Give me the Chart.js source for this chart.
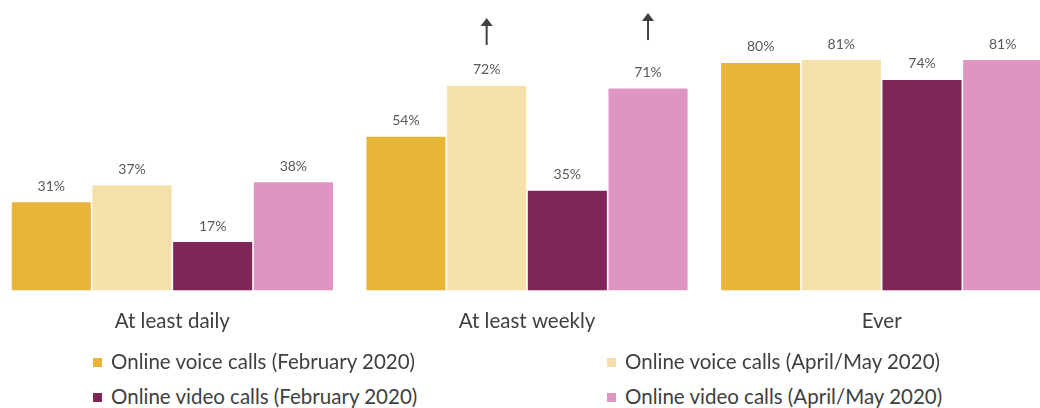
<!DOCTYPE html>
<html>
<head>
<meta charset="utf-8">
<script src="https://cdn.jsdelivr.net/npm/chart.js@4"></script>
<style>
  html, body { margin: 0; padding: 0; background: #fff; overflow: hidden; }
  body { width: 1040px; height: 408px; position: relative; }
  #wrap { position: absolute; left: -5px; top: 0; width: 1064px; height: 363px; }
  .legend { position: absolute; font-family: Lato, sans-serif; font-size: 20.5px; color: #404040; white-space: nowrap; }
  .legend span.box { display: inline-block; width: 9px; height: 9px; margin-right: 9px; vertical-align: 2px; }
</style>
</head>
<body>
<div id="wrap"><canvas id="barChart"></canvas></div>
<div id="legend"></div>
<script>
// 데이터
const categories = ['At least daily', 'At least weekly', 'Ever'];
const seriesNames = [
    'Online voice calls (February 2020)',
    'Online voice calls (April/May 2020)',
    'Online video calls (February 2020)',
    'Online video calls (April/May 2020)'
];
const voiceFeb = [31, 54, 80];
const voiceApr = [37, 72, 81];
const videoFeb = [17, 35, 74];
const videoApr = [38, 71, 81];
const colors = ['#E6B53A', '#F5E0AC', '#7F2659', '#DE95C2'];

// 화살표 (증가 표시): 카테고리, 시리즈, 시작/끝 값
const arrowCat = [1, 1];
const arrowSeries = [1, 3];
const arrowFrom = [86.3, 88];
const arrowTo = [95.8, 97.5];

function barChart() {
    const ctx = document.getElementById('barChart').getContext('2d');
    const values = [voiceFeb, voiceApr, videoFeb, videoApr];

    // 막대 위 값 표시
    const valueLabels = {
        id: 'valueLabels',
        afterDatasetsDraw(chart) {
            const c = chart.ctx;
            c.save();
            c.font = '14px Lato, sans-serif';
            c.fillStyle = '#595959';
            c.textAlign = 'center';
            c.textBaseline = 'middle';
            chart.data.datasets.forEach((ds, i) => {
                chart.getDatasetMeta(i).data.forEach((bar, j) => {
                    c.fillText(ds.data[j] + '%', bar.x, bar.y - 16);
                });
            });
            c.restore();
        }
    };

    // 화살표 그리기
    const arrows = {
        id: 'arrows',
        afterDatasetsDraw(chart) {
            const c = chart.ctx;
            const y = chart.scales.y;
            c.save();
            c.strokeStyle = '#404040';
            c.fillStyle = '#404040';
            c.lineWidth = 2;
            arrowCat.forEach((cat, k) => {
                const bar = chart.getDatasetMeta(arrowSeries[k]).data[cat];
                const x = bar.x;
                const y0 = y.getPixelForValue(arrowFrom[k]);
                const y1 = y.getPixelForValue(arrowTo[k]);
                c.beginPath();
                c.moveTo(x, y0);
                c.lineTo(x, y1 + 7);
                c.stroke();
                c.beginPath();
                c.moveTo(x, y1);
                c.lineTo(x - 6, y1 + 8);
                c.lineTo(x + 6, y1 + 8);
                c.closePath();
                c.fill();
            });
            c.restore();
        }
    };

    new Chart(ctx, {
        type: 'bar',
        data: {
            labels: categories,
            datasets: seriesNames.map((name, i) => ({
                label: name,
                data: values[i],
                backgroundColor: colors[i],
                borderWidth: 0,
                categoryPercentage: 0.91,
                barPercentage: 0.98
            }))
        },
        options: {
            responsive: true,
            maintainAspectRatio: false,
            animation: false,
            layout: { padding: { top: 6, bottom: 10, left: 0, right: 0 } },
            scales: {
                x: {
                    grid: { display: false, drawTicks: false },
                    border: { display: false },
                    ticks: {
                        padding: 19,
                        color: '#404040',
                        font: { family: 'Lato, sans-serif', size: 20.5 }
                    }
                },
                y: {
                    display: false,
                    min: 0,
                    max: 100
                }
            },
            plugins: {
                legend: { display: false },
                tooltip: { enabled: false }
            }
        },
        plugins: [valueLabels, arrows]
    });
}
barChart();

// 범례 (2열)
function buildLegend() {
    const legend = document.getElementById('legend');
    const colX = [93, 607];
    const rowY = [349, 384];
    seriesNames.forEach((name, i) => {
        const d = document.createElement('div');
        d.className = 'legend';
        d.style.left = colX[i % 2] + 'px';
        d.style.top = rowY[Math.floor(i / 2)] + 'px';
        d.innerHTML = '<span class="box" style="background:' + colors[i] + '"></span>' + name;
        legend.appendChild(d);
    });
}
buildLegend();
</script>
</body>
</html>
